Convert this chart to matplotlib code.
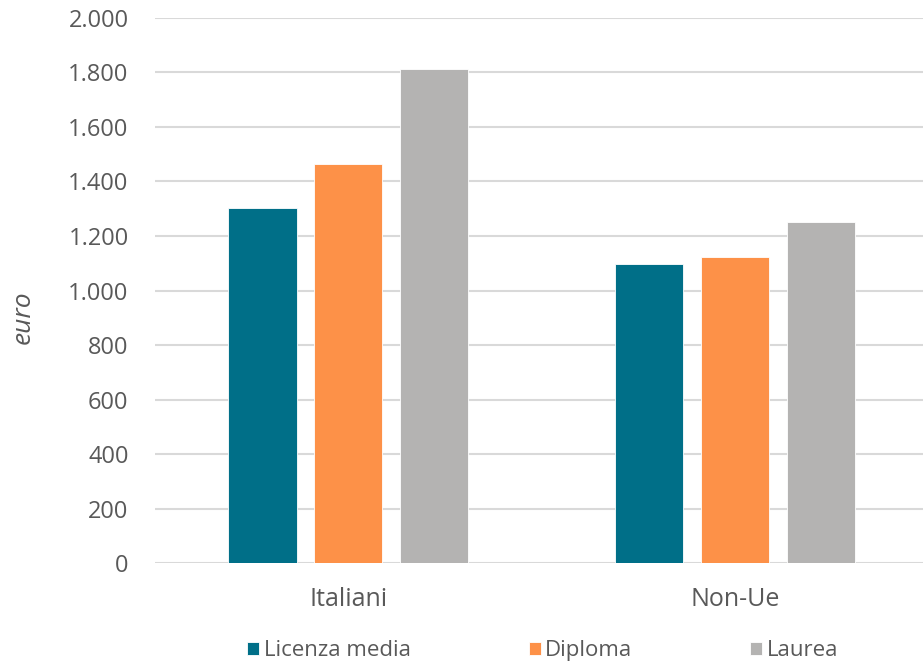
import matplotlib.pyplot as plt
import numpy as np
from matplotlib.ticker import FuncFormatter

# monthly net wage by education level
groups = ["Italiani", "Non-Ue"]
levels = ["Licenza media", "Diploma", "Laurea"]
licenza = [1303, 1096]
diploma = [1464, 1123]
laurea = [1812, 1250]
colors = ["#006F88", "#FD9148", "#B4B3B2"]

plt.rcParams['font.family'] = ['Open Sans', 'DejaVu Sans']
text_col = "#595959"

fig = plt.figure(figsize=(9.23, 6.64), dpi=100)
ax = fig.add_axes([155/923, 0.152, 1 - 155/923, 0.821])

x = np.arange(len(groups))
step = 0.222
width = 0.176
for i, (vals, lab) in enumerate(zip([licenza, diploma, laurea], levels)):
    ax.bar(x + (i - 1) * step, vals, width, color=colors[i], label=lab,
           edgecolor="white", linewidth=0.6, zorder=3)

ax.set_ylim(0, 2000)
ax.set_xlim(-0.5, 1.486)
ax.set_yticks(range(0, 2001, 200))
ax.yaxis.set_major_formatter(FuncFormatter(lambda v, p: f"{int(v):,}".replace(",", ".")))
ax.set_xticks(x)
ax.set_xticklabels(groups)
ax.grid(axis="y", color="#D9D9D9", linewidth=1.5, zorder=0)
for s in ax.spines.values():
    s.set_visible(False)
ax.tick_params(length=0, labelsize=17, labelcolor=text_col)
ax.tick_params(axis="x", labelsize=18, pad=17)
ax.tick_params(axis="y", pad=19)

fig.text(23/923, 1 - 317/664, "euro", rotation=90, fontsize=19, color=text_col,
         style="italic", ha="center", va="center")

fig.legend(loc="center", bbox_to_anchor=(0.588, 0.02), ncol=3, frameon=False,
           fontsize=16, labelcolor=text_col, handlelength=0.55, handleheight=0.55,
           handletextpad=0.2, columnspacing=5.3)

fig.savefig("out.png", dpi=100)
